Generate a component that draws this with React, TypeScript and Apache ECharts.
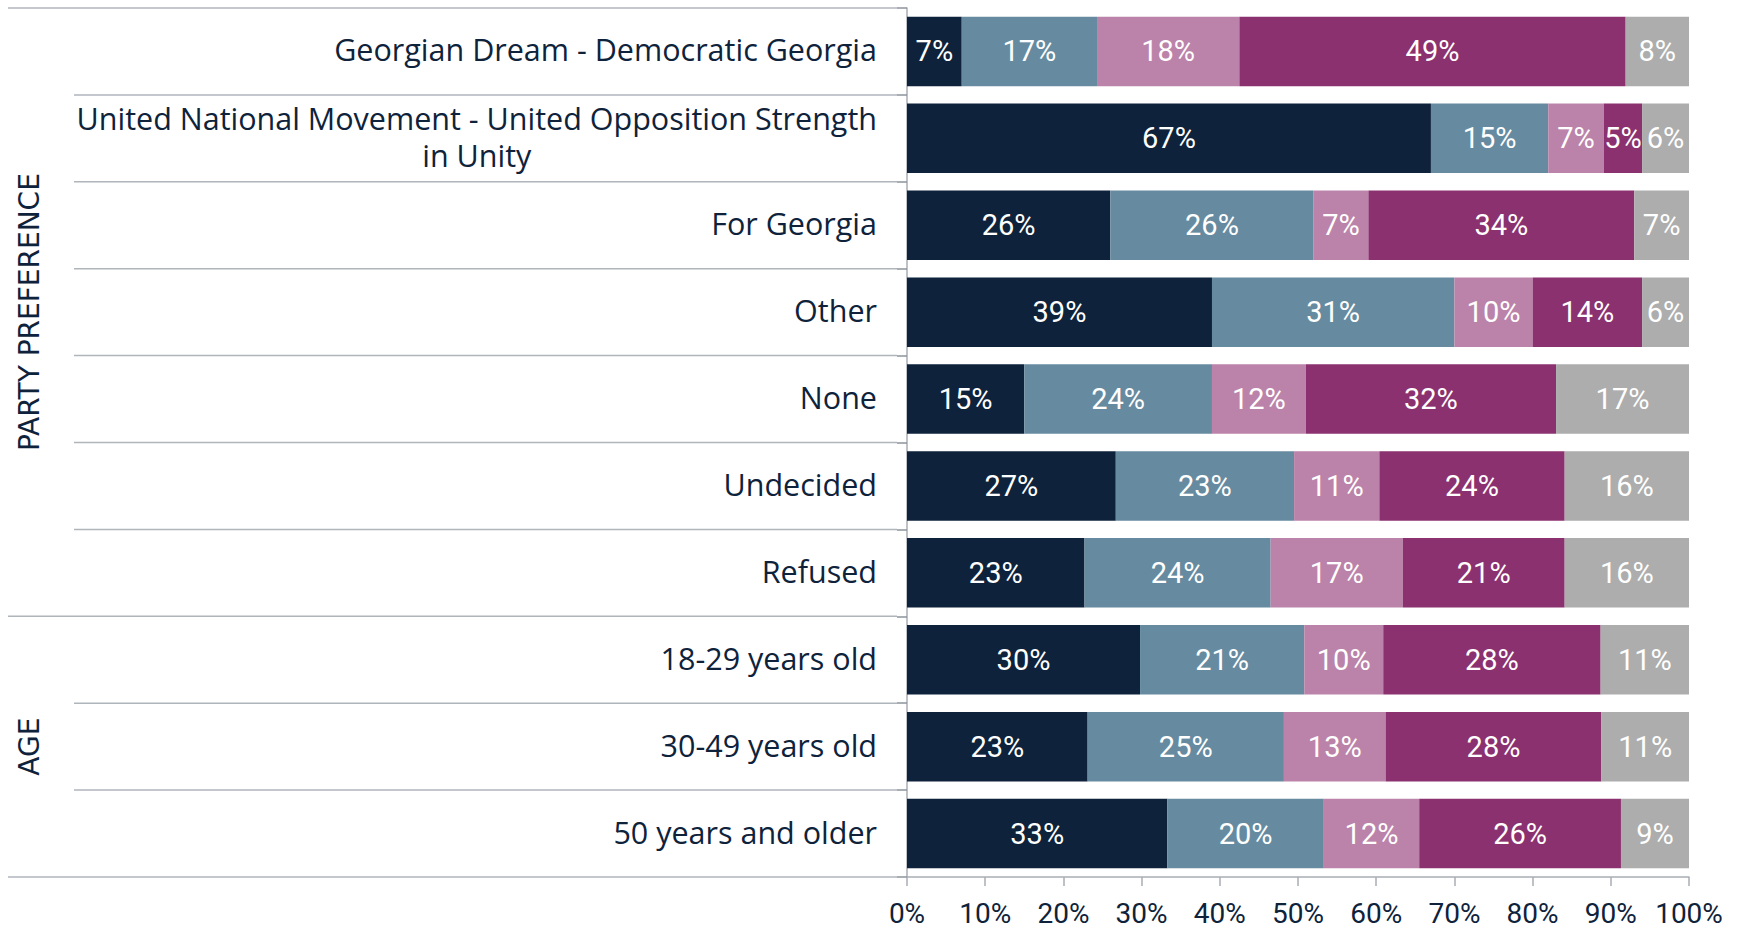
import React, { useEffect, useRef } from 'react';
import * as echarts from 'echarts';

const categories = [
  'Georgian Dream - Democratic Georgia',
  'United National Movement - United Opposition Strength in Unity',
  'For Georgia',
  'Other',
  'None',
  'Undecided',
  'Refused',
  '18-29 years old',
  '30-49 years old',
  '50 years and older',
];

const seriesNames = ['Segment 1', 'Segment 2', 'Segment 3', 'Segment 4', 'Segment 5'];
const seg1 = [7.0, 67.0, 26.0, 39.0, 15.0, 26.7, 22.7, 29.8, 23.1, 33.3];
const seg2 = [17.3, 15.0, 26.0, 31.0, 24.0, 22.8, 23.8, 21.0, 25.1, 20.0];
const seg3 = [18.2, 7.1, 7.0, 10.0, 12.0, 10.9, 16.9, 10.1, 13.0, 12.2];
const seg4 = [49.4, 4.9, 34.0, 14.0, 32.0, 23.7, 20.7, 27.8, 27.6, 25.8];
const seg5 = [8.1, 6.0, 7.0, 6.0, 17.0, 15.9, 15.9, 11.3, 11.2, 8.7];
const segColors = ['#0e233b', '#668ba0', '#bb83a9', '#8b316f', '#adadad'];

const groupNames = ['PARTY PREFERENCE', 'AGE'];
const groupStart = [0, 7];
const groupEnd = [6, 9];

const xTicks = [0, 10, 20, 30, 40, 50, 60, 70, 80, 90, 100];

const NAVY = '#0e233b';
const LINE = '#b0b5bc';
const LABEL_FONT = "'Open Sans', 'Noto Sans', sans-serif";
const NUM_FONT = "Roboto, 'Open Sans', sans-serif";

export default function App() {
  const ref = useRef<HTMLDivElement>(null);
  useEffect(() => {
    const chart = echarts.init(ref.current!, null, { renderer: 'svg' });
    const segs = [seg1, seg2, seg3, seg4, seg5];
    chart.setOption({
      animation: false,
      grid: { left: 907, right: 51, top: 8, bottom: 54, containLabel: false },
      xAxis: {
        type: 'value',
        min: xTicks[0],
        max: xTicks[xTicks.length - 1],
        interval: xTicks[1] - xTicks[0],
        axisLine: { show: true, lineStyle: { color: '#a9aeb5', width: 1.5 } },
        axisTick: { show: true, length: 9, lineStyle: { color: '#a9aeb5', width: 1.5 } },
        splitLine: { show: false },
        axisLabel: {
          formatter: '{value}%',
          color: NAVY,
          fontSize: 28,
          fontFamily: NUM_FONT,
          margin: 22,
        },
      },
      yAxis: {
        type: 'category',
        data: categories,
        inverse: true,
        axisLine: { show: true, lineStyle: { color: '#a9aeb5', width: 1.5 } },
        axisTick: { show: true, length: 10, lineStyle: { color: '#8d939b', width: 1.5 } },
        axisLabel: {
          margin: 30,
          color: NAVY,
          fontSize: 30.5,
          fontFamily: LABEL_FONT,
          padding: [0, 0, 4, 0],
          formatter: (v: string) => {
            if (v === categories[1]) {
              return '{a|United National Movement - United Opposition Strength}\n{b|in Unity}';
            }
            return v;
          },
          rich: {
            a: { fontSize: 30.5, fontFamily: LABEL_FONT, color: NAVY, lineHeight: 37, align: 'right' },
            b: { fontSize: 30.5, fontFamily: LABEL_FONT, color: NAVY, lineHeight: 37, align: 'center' },
          },
        },
      },
      series: segs.map((d, i) => ({
        name: seriesNames[i],
        type: 'bar',
        stack: 'total',
        data: d,
        barCategoryGap: '20%',
        itemStyle: { color: segColors[i] },
        label: {
          show: true,
          position: 'inside',
          color: '#ffffff',
          fontSize: 29,
          fontFamily: NUM_FONT,
          formatter: (p: any) => Math.round(p.value) + '%',
        },
      })),
    });

    const centers = categories.map((c) => chart.convertToPixel({ yAxisIndex: 0 }, c) as number);
    const band = (centers[centers.length - 1] - centers[0]) / (centers.length - 1);
    const bounds: number[] = centers.map((c) => c - band / 2);
    bounds.push(centers[centers.length - 1] + band / 2);
    const axisX = chart.convertToPixel({ xAxisIndex: 0 }, 0) as number;
    const groupBounds = new Set<number>();
    groupStart.forEach((s) => groupBounds.add(s));
    groupEnd.forEach((e) => groupBounds.add(e + 1));

    const graphics: any[] = bounds.map((y, i) => ({
      type: 'line',
      z: 1,
      shape: { x1: groupBounds.has(i) ? 8 : 74, y1: y, x2: axisX - 10, y2: y },
      style: { stroke: LINE, lineWidth: 1.5 },
    }));
    groupNames.forEach((name, gi) => {
      const yc = (bounds[groupStart[gi]] + bounds[groupEnd[gi] + 1]) / 2;
      graphics.push({
        type: 'text',
        x: 29,
        y: yc,
        rotation: Math.PI / 2,
        style: {
          text: name,
          fill: NAVY,
          fontSize: 28,
          fontFamily: "'DejaVu Sans', Verdana, sans-serif",
          align: 'center',
          verticalAlign: 'middle',
          textAlign: 'center',
          textVerticalAlign: 'middle',
        },
      });
    });
    chart.setOption({ graphic: graphics });

    return () => chart.dispose();
  }, []);
  return (
    <div
      ref={ref}
      style={{ position: 'absolute', left: 0, top: 0, width: 1740, height: 931 }}
    />
  );
}
